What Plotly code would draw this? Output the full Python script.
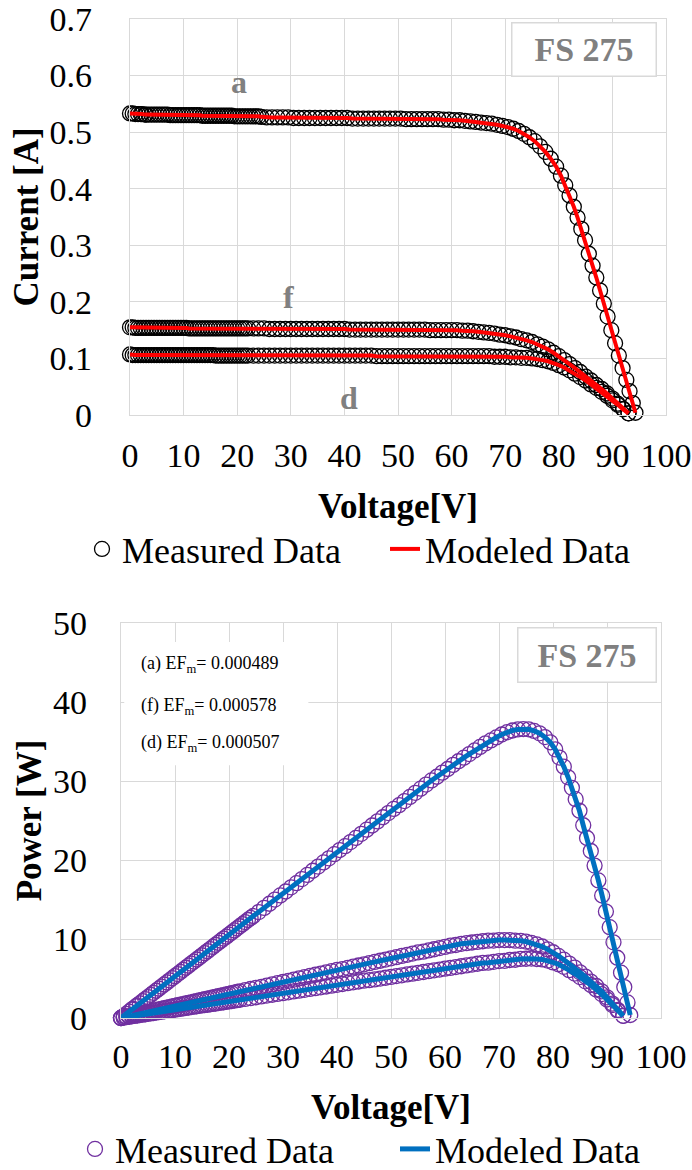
import plotly.graph_objects as go

W, H = 692, 1170
FONT = "Liberation Serif"

# ---------------- data ----------------
voltage_a = [0.0, 1.5, 2.2, 2.8, 3.5, 4.5, 5.5, 6.5, 7.5, 8.5, 9.5, 10.5, 11.5, 12.5, 13.5,
             14.5, 15.5, 16.5, 17.5, 18.5, 19.5, 20.5, 21.5, 22.5, 23.5, 24.5, 25.5, 26.5,
             27.5, 28.5, 29.5, 30.5, 31.5, 32.5, 33.5, 34.5, 35.5, 36.5, 37.5, 38.5, 39.5,
             40.5, 41.5, 42.5, 43.5, 44.5, 45.5, 46.5, 47.5, 48.5, 49.5, 50.5, 51.5, 52.5,
             53.5, 54.5, 55.5, 56.5, 57.5, 58.5, 59.5, 60.5, 61.5, 62.5, 63.5, 64.5, 65.5,
             66.5, 67.5, 68.5, 69.5, 70.5, 71.5, 72.5, 73.5, 74.5, 75.5, 76.5, 77.5, 78.5,
             79.5, 80.4, 81.2, 82.0, 82.8, 83.5, 84.2, 84.9, 85.6, 86.3, 87.0, 87.7, 88.4,
             89.1, 89.8, 90.5, 91.2, 91.9, 92.6, 93.2, 93.8, 94.3]
current_a = [0.533, 0.532, 0.532, 0.531, 0.531, 0.531, 0.531, 0.531, 0.530, 0.530, 0.530, 0.530,
             0.530, 0.530, 0.529, 0.529, 0.529, 0.529, 0.529, 0.529, 0.528, 0.528, 0.528, 0.528,
             0.528, 0.527, 0.526, 0.526, 0.526, 0.526, 0.526, 0.525, 0.525, 0.525, 0.525, 0.525,
             0.525, 0.525, 0.525, 0.525, 0.525, 0.525, 0.524, 0.524, 0.524, 0.524, 0.524, 0.524,
             0.524, 0.524, 0.524, 0.524, 0.523, 0.523, 0.523, 0.523, 0.523, 0.523, 0.523, 0.522,
             0.522, 0.521, 0.521, 0.520, 0.519, 0.518, 0.517, 0.516, 0.515, 0.513, 0.511, 0.509,
             0.506, 0.502, 0.497, 0.491, 0.484, 0.475, 0.465, 0.453, 0.439, 0.423, 0.406, 0.388,
             0.368, 0.349, 0.329, 0.309, 0.285, 0.264, 0.243, 0.220, 0.197, 0.174, 0.150, 0.127,
             0.105, 0.083, 0.062, 0.042, 0.021, 0.004]
# extra, densely sampled low-voltage readings of curve a
voltage_a_dense = [0.5, 1.0, 2.0, 3.0, 4.0, 5.0, 6.0, 7.0, 8.0, 9.0, 10.0, 11.0, 12.0, 13.0,
                   14.0, 15.0, 16.0, 17.0, 18.0, 19.0, 20.0, 21.0, 22.0, 23.0, 24.0]
current_a_dense = [0.533, 0.532, 0.532, 0.531, 0.531, 0.531, 0.531, 0.531, 0.530, 0.530, 0.530,
                   0.530, 0.530, 0.530, 0.529, 0.529, 0.529, 0.529, 0.529, 0.529, 0.528, 0.528,
                   0.528, 0.528, 0.528]

voltage_f = [0, 1, 2, 3, 4, 5, 6, 7, 8, 9, 10, 11, 12, 13, 14, 15, 16, 17, 18, 19, 20, 21, 22,
             23, 24, 25, 26, 27, 28, 29, 30, 31, 32, 33, 34, 35, 36, 37, 38, 39, 40, 41, 42, 43,
             44, 45, 46, 47, 48, 49, 50, 51, 52, 53, 54, 55, 56, 57, 58, 59, 60, 61, 62, 63, 64,
             65, 66, 67, 68, 69, 70, 71, 72, 73, 74, 75, 76, 77, 78, 79, 80, 81, 82, 83, 84, 85,
             86, 87, 88, 89, 90, 91, 92, 93]
current_f = [0.155, 0.154, 0.154, 0.154, 0.154, 0.154, 0.154, 0.154, 0.154, 0.154, 0.154, 0.153,
             0.153, 0.153, 0.153, 0.153, 0.153, 0.153, 0.153, 0.153, 0.153, 0.153, 0.153, 0.153,
             0.153, 0.153, 0.152, 0.152, 0.152, 0.152, 0.152, 0.152, 0.152, 0.152, 0.152, 0.152,
             0.152, 0.152, 0.152, 0.152, 0.152, 0.151, 0.151, 0.151, 0.151, 0.151, 0.151, 0.151,
             0.151, 0.151, 0.151, 0.151, 0.151, 0.151, 0.151, 0.151, 0.150, 0.150, 0.150, 0.150,
             0.150, 0.150, 0.149, 0.149, 0.148, 0.147, 0.146, 0.145, 0.144, 0.142, 0.141, 0.139,
             0.137, 0.134, 0.132, 0.129, 0.125, 0.121, 0.116, 0.110, 0.104, 0.097, 0.090, 0.083,
             0.076, 0.068, 0.061, 0.053, 0.046, 0.038, 0.029, 0.020, 0.011, 0.003]
voltage_f_dense = [0.5, 1.5, 2.5, 3.5, 4.5, 5.5, 6.5, 7.5, 8.5, 9.5, 10.5, 11.5, 12.5, 13.5,
                   14.5, 15.5, 16.5, 17.5, 18.5, 19.5, 20.5, 21.5]
current_f_dense = [0.155, 0.154, 0.154, 0.154, 0.154, 0.154, 0.154, 0.154, 0.154, 0.154, 0.154,
                   0.153, 0.153, 0.153, 0.153, 0.153, 0.153, 0.153, 0.153, 0.153, 0.153, 0.153]

voltage_d = [0, 1, 2, 3, 4, 5, 6, 7, 8, 9, 10, 11, 12, 13, 14, 15, 16, 17, 18, 19, 20, 21, 22,
             23, 24, 25, 26, 27, 28, 29, 30, 31, 32, 33, 34, 35, 36, 37, 38, 39, 40, 41, 42, 43,
             44, 45, 46, 47, 48, 49, 50, 51, 52, 53, 54, 55, 56, 57, 58, 59, 60, 61, 62, 63, 64,
             65, 66, 67, 68, 69, 70, 71, 72, 73, 74, 75, 76, 77, 78, 79, 80, 81, 82, 83, 84, 85,
             86, 87, 88, 89, 90, 91, 92, 93]
current_d = [0.107, 0.106, 0.106, 0.106, 0.106, 0.106, 0.106, 0.106, 0.106, 0.106, 0.106, 0.106,
             0.106, 0.106, 0.106, 0.106, 0.105, 0.105, 0.105, 0.105, 0.105, 0.105, 0.105, 0.105,
             0.105, 0.105, 0.105, 0.105, 0.105, 0.105, 0.105, 0.105, 0.105, 0.105, 0.105, 0.105,
             0.105, 0.105, 0.105, 0.105, 0.105, 0.105, 0.105, 0.105, 0.105, 0.105, 0.104, 0.104,
             0.104, 0.104, 0.104, 0.104, 0.104, 0.104, 0.104, 0.104, 0.104, 0.104, 0.104, 0.104,
             0.104, 0.104, 0.104, 0.104, 0.104, 0.104, 0.104, 0.104, 0.103, 0.103, 0.103, 0.102,
             0.102, 0.101, 0.101, 0.100, 0.099, 0.097, 0.095, 0.092, 0.088, 0.084, 0.079, 0.073,
             0.067, 0.061, 0.054, 0.048, 0.041, 0.034, 0.026, 0.018, 0.010, 0.003]
voltage_d_dense = [0.5, 1.5, 2.5, 3.5, 4.5, 5.5, 6.5, 7.5, 8.5, 9.5, 10.5, 11.5, 12.5, 13.5,
                   14.5, 15.5, 16.5, 17.5, 18.5, 19.5, 20.5, 21.5]
current_d_dense = [0.106, 0.106, 0.106, 0.106, 0.106, 0.106, 0.106, 0.106, 0.106, 0.106, 0.106,
                   0.106, 0.106, 0.106, 0.106, 0.106, 0.105, 0.105, 0.105, 0.105, 0.105, 0.105]

curve_names = ["a", "f", "d"]
curve_label_v = [20.3, 29.6, 40.9]
curve_label_i = [0.588, 0.208, 0.030]
ef_values = ["0.000489", "0.000578", "0.000507"]
voltage_ticks = [0, 10, 20, 30, 40, 50, 60, 70, 80, 90, 100]
current_ticks = [0, 0.1, 0.2, 0.3, 0.4, 0.5, 0.6, 0.7]
power_ticks = [0, 10, 20, 30, 40, 50]
panel_label = "FS 275"
legend_names = ["Measured Data", "Modeled Data"]


def merge(v_main, i_main, v_extra, i_extra):
    pairs = sorted(zip(list(v_main) + list(v_extra), list(i_main) + list(i_extra)))
    return [p[0] for p in pairs], [p[1] for p in pairs]


va, ia = merge(voltage_a, current_a, voltage_a_dense, current_a_dense)
vf, if_ = merge(voltage_f, current_f, voltage_f_dense, current_f_dense)
vd, id_ = merge(voltage_d, current_d, voltage_d_dense, current_d_dense)

# power of each measured point = voltage x current
power_a = [round(v * i, 3) for v, i in zip(va, ia)]
power_f = [round(v * i, 3) for v, i in zip(vf, if_)]
power_d = [round(v * i, 3) for v, i in zip(vd, id_)]

# ---------------- styling ----------------
GRID = "#d9d9d9"
GRAY = "#808080"
BLACK = "#000000"
RED = "#ff0000"
PURPLE = "#7030a0"
BLUE = "#0070c0"

fig = go.Figure()

iv_sets = [(va, ia), (vf, if_), (vd, id_)]
pv_sets = [(va, power_a), (vf, power_f), (vd, power_d)]

for k, (v, i) in enumerate(iv_sets):
    fig.add_trace(go.Scatter(x=v, y=i, mode="markers", name=legend_names[0],
                             legendgroup="m1", showlegend=(k == 0), legend="legend",
                             cliponaxis=False, xaxis="x", yaxis="y",
                             marker=dict(symbol="circle-open", size=15, color=BLACK,
                                         line=dict(width=1.3, color=BLACK))))
for k, (v, i) in enumerate(iv_sets):
    fig.add_trace(go.Scatter(x=v, y=i, mode="lines", name=legend_names[1],
                             legendgroup="l1", showlegend=(k == 0), legend="legend",
                             xaxis="x", yaxis="y", line=dict(color=RED, width=4)))
for k, (v, p) in enumerate(pv_sets):
    fig.add_trace(go.Scatter(x=v, y=p, mode="markers", name=legend_names[0],
                             legendgroup="m2", showlegend=(k == 0), legend="legend2",
                             cliponaxis=False, xaxis="x2", yaxis="y2",
                             marker=dict(symbol="circle-open", size=15, color=PURPLE,
                                         line=dict(width=1.3, color=PURPLE))))
for k, (v, p) in enumerate(pv_sets):
    fig.add_trace(go.Scatter(x=v, y=p, mode="lines", name=legend_names[1],
                             legendgroup="l2", showlegend=(k == 0), legend="legend2",
                             xaxis="x2", yaxis="y2", line=dict(color=BLUE, width=5)))


def px(x):
    return x / W


def py(y):
    return 1 - y / H


axis_common = dict(showgrid=True, gridcolor=GRID, gridwidth=1.3, showline=True,
                   linecolor=GRID, linewidth=1.3, mirror=True, zeroline=False,
                   ticks="", automargin=False, ticklabeloverflow="allow",
                   tickfont=dict(family=FONT, size=34, color=BLACK))

fig.update_layout(
    width=W, height=H,
    margin=dict(l=0, r=0, t=0, b=0, autoexpand=False),
    paper_bgcolor="white", plot_bgcolor="white",
    font=dict(family=FONT, color=BLACK),
    xaxis=dict(domain=[px(130), px(666)], range=[0, 100], tickvals=voltage_ticks,
               anchor="y", ticklabelstandoff=10,
               title=dict(text="<b>Voltage[V]</b>", standoff=20,
                          font=dict(family=FONT, size=35, color=BLACK)),
               **axis_common),
    yaxis=dict(domain=[py(415), py(19)], range=[0, 0.7], tickvals=current_ticks,
               anchor="x", ticklabelstandoff=30,
               title=dict(text="<b>Current [A]</b>", standoff=0,
                          font=dict(family=FONT, size=35, color=BLACK)),
               **axis_common),
    xaxis2=dict(domain=[px(121), px(661)], range=[0, 100], tickvals=voltage_ticks,
                anchor="y2", ticklabelstandoff=8,
                title=dict(text="<b>Voltage[V]</b>", standoff=20,
                           font=dict(family=FONT, size=35, color=BLACK)),
                **axis_common),
    yaxis2=dict(domain=[py(1018), py(623)], range=[0, 50], tickvals=power_ticks,
                anchor="x2", ticklabelstandoff=26,
                title=dict(text="<b>Power [W]</b>", standoff=0,
                           font=dict(family=FONT, size=35, color=BLACK)),
                **axis_common),
    legend=dict(orientation="h", x=px(82), xanchor="left", y=py(549), yanchor="middle",
                font=dict(family=FONT, size=36, color=BLACK), entrywidth=258,
                bgcolor="rgba(0,0,0,0)", itemsizing="trace"),
    legend2=dict(orientation="h", x=px(75), xanchor="left", y=py(1149), yanchor="middle",
                 font=dict(family=FONT, size=36, color=BLACK), entrywidth=275,
                 bgcolor="rgba(0,0,0,0)", itemsizing="trace"),
)

annotations = []
for name, xv, yv in zip(curve_names, curve_label_v, curve_label_i):
    annotations.append(dict(x=xv, y=yv, xref="x", yref="y", text=f"<b>{name}</b>",
                            showarrow=False, font=dict(family=FONT, size=32, color=GRAY)))

for cx, cy, wbox, hbox in [(584, 49.5, 143, 52), (587, 655, 137, 53)]:
    annotations.append(dict(x=px(cx), y=py(cy), xref="paper", yref="paper",
                            xanchor="center", yanchor="middle",
                            text=f"<b>{panel_label}</b>", showarrow=False,
                            width=wbox, height=hbox, borderpad=0,
                            bordercolor=GRID, borderwidth=1.5, bgcolor="white",
                            font=dict(family=FONT, size=34, color=GRAY)))

for name, val, yy in zip(curve_names, ef_values, [664, 706, 743]):
    annotations.append(dict(x=px(139), y=py(yy), xref="paper", yref="paper",
                            xanchor="left", yanchor="middle", showarrow=False,
                            text=f"({name}) EF<sub>m</sub>= {val}",
                            font=dict(family=FONT, size=18, color=BLACK)))

fig.update_layout(annotations=annotations)

fig.add_shape(type="rect", xref="x2", yref="y2", x0=0.6, x1=34.7, y0=32.0, y1=47.6,
              fillcolor="white", line=dict(width=0), layer="between")

fig.write_html("out.html", config={"displayModeBar": False},
               post_script="document.body.style.margin='0';document.body.style.overflow='hidden';")
